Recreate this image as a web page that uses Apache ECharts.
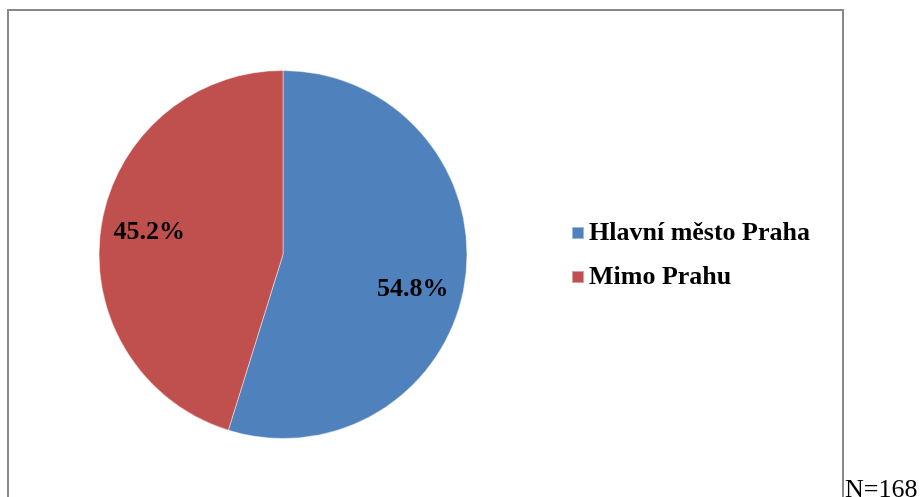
<!DOCTYPE html>
<html>
<head>
<meta charset="utf-8">
<style>
  html, body { margin: 0; padding: 0; background: #ffffff; }
  #chart { width: 922px; height: 497px; }
</style>
<script src="https://cdn.jsdelivr.net/npm/echarts@6/dist/echarts.min.js"></script>
</head>
<body>
<div id="chart"></div>
<script>
// Place of residence of respondents (share in %)
const categories = ['Hlavní město Praha', 'Mimo Prahu'];
const shares = [54.8, 45.2];
const sliceColors = ['#4F81BD', '#C0504D'];
const sampleNote = 'N=168';

const serif = '"Liberation Serif", "Times New Roman", serif';
const pieCenter = [283, 254.5];
const pieRadius = 184;

// small nudges of the percentage labels away from the slice bisector
const labelNudge = [[-6, 14], [2, -2]];

const pieData = categories.map((name, i) => ({
  name: name,
  value: shares[i],
  itemStyle: { color: sliceColors[i] }
}));

const chart = echarts.init(document.getElementById('chart'), null, { renderer: 'canvas' });

chart.setOption({
  animation: false,
  backgroundColor: '#ffffff',
  legend: {
    orient: 'vertical',
    left: 566,
    top: 215,
    itemWidth: 12,
    itemHeight: 12,
    itemGap: 18,
    icon: 'rect',
    selectedMode: false,
    data: categories,
    textStyle: {
      fontFamily: serif,
      fontWeight: 'bold',
      fontSize: 26,
      color: '#000000'
    }
  },
  graphic: [
    {
      type: 'rect',
      silent: true,
      z: 0,
      shape: { x: 8, y: 10, width: 835, height: 500 },
      style: { fill: 'none', stroke: '#898989', lineWidth: 2 }
    },
    {
      type: 'text',
      silent: true,
      style: {
        x: 845,
        y: 490,
        text: sampleNote,
        verticalAlign: 'middle',
        align: 'left',
        fontFamily: serif,
        fontSize: 26,
        fill: '#000000'
      }
    }
  ],
  series: [
    {
      // the slices
      type: 'pie',
      center: pieCenter,
      radius: [0, pieRadius],
      startAngle: 90,
      clockwise: true,
      silent: true,
      label: { show: false },
      labelLine: { show: false },
      itemStyle: { borderColor: 'rgba(255,255,255,0.45)', borderWidth: 1 },
      data: pieData
    },
    {
      // percentage labels, set further out along each slice
      type: 'pie',
      center: pieCenter,
      radius: [pieRadius * 0.46, pieRadius],
      startAngle: 90,
      clockwise: true,
      silent: true,
      itemStyle: { color: 'rgba(0,0,0,0)' },
      labelLine: { show: false },
      labelLayout: p => ({ dx: labelNudge[p.dataIndex][0], dy: labelNudge[p.dataIndex][1] }),
      label: {
        show: true,
        position: 'inside',
        formatter: p => p.value.toFixed(1) + '%',
        fontFamily: serif,
        fontWeight: 'bold',
        fontSize: 26,
        color: '#000000'
      },
      data: categories.map((name, i) => ({ name: name, value: shares[i] }))
    }
  ]
});
</script>
</body>
</html>
